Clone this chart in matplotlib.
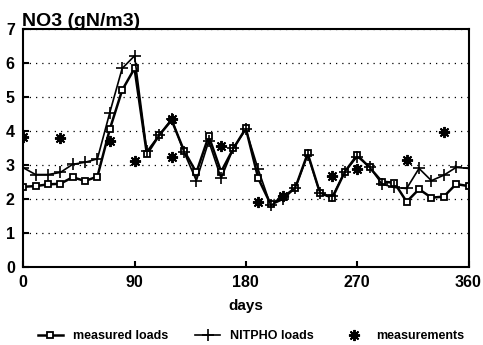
from matplotlib import pyplot as plt

#Days of the model output (every 10 days) and the two load scenarios
days = list(range(0, 361, 10))
measured_loads = [2.36, 2.38, 2.43, 2.45, 2.64, 2.53, 2.66, 4.05, 5.2, 5.84,
                  3.32, 3.88, 4.32, 3.42, 2.78, 3.85, 2.8, 3.49, 4.08, 2.61,
                  1.85, 2.05, 2.33, 3.34, 2.17, 2.04, 2.8, 3.29, 2.93, 2.51,
                  2.48, 1.92, 2.29, 2.04, 2.07, 2.44, 2.38]
nitpho_loads = [2.92, 2.72, 2.72, 2.78, 3.02, 3.08, 3.18, 4.54, 5.84, 6.21,
                3.4, 3.88, 4.35, 3.38, 2.54, 3.7, 2.61, 3.5, 4.05, 2.87,
                1.82, 1.99, 2.33, 3.3, 2.17, 2.08, 2.8, 3.25, 2.95, 2.44,
                2.34, 2.31, 2.9, 2.54, 2.7, 2.93, 2.9]

#Field measurements
meas_days = [0, 30, 70, 90, 120, 120, 160, 190, 210, 250, 270, 310, 340]
meas_values = [3.82, 3.8, 3.7, 3.13, 3.24, 4.35, 3.55, 1.92, 2.09, 2.67, 2.87, 3.16, 3.97]

plt.rcParams['font.family'] = ['Liberation Sans', 'DejaVu Sans']
plt.rcParams['font.weight'] = 'bold'

fig = plt.figure(figsize=(4.83, 3.45), dpi=100)
ax = fig.add_axes([0.048, 0.226, 0.922, 0.69])

ax.plot(days, measured_loads, color='black', linewidth=1.8, marker='s',
        markersize=5, markerfacecolor='white', markeredgewidth=1.3,
        label='measured loads')
ax.plot(days, nitpho_loads, color='black', linewidth=1.2, marker='+',
        markersize=8, markeredgewidth=1.2, label='NITPHO loads')
ax.plot(meas_days, meas_values, linestyle='none', color='black',
        marker=(8, 2, 0), markersize=8, markeredgewidth=1.4,
        label='measurements')

ax.set_xlim(0, 360)
ax.set_ylim(0, 7)
ax.set_xticks([0, 90, 180, 270, 360])
ax.set_yticks(range(8))
ax.tick_params(direction='in', length=4, width=1.5, labelsize=11.5, pad=6)
for lbl in ax.get_xticklabels() + ax.get_yticklabels():
    lbl.set_fontweight('bold')
for s in ax.spines.values():
    s.set_linewidth(1.5)
ax.yaxis.grid(True, linestyle=(0, (1, 4)), color='black', linewidth=0.9)
ax.set_axisbelow(True)

ax.set_xlabel('days', fontsize=11, fontweight='bold', labelpad=6)
fig.text(0.045, 0.925, 'NO3 (gN/m3)', fontsize=14, fontweight='bold')

fig.legend(loc='lower center', bbox_to_anchor=(0.52, -0.025), ncol=3,
           frameon=False, handlelength=2.0, columnspacing=2.2,
           prop={'weight': 'bold', 'size': 9})

fig.savefig('out.png', dpi=100)
